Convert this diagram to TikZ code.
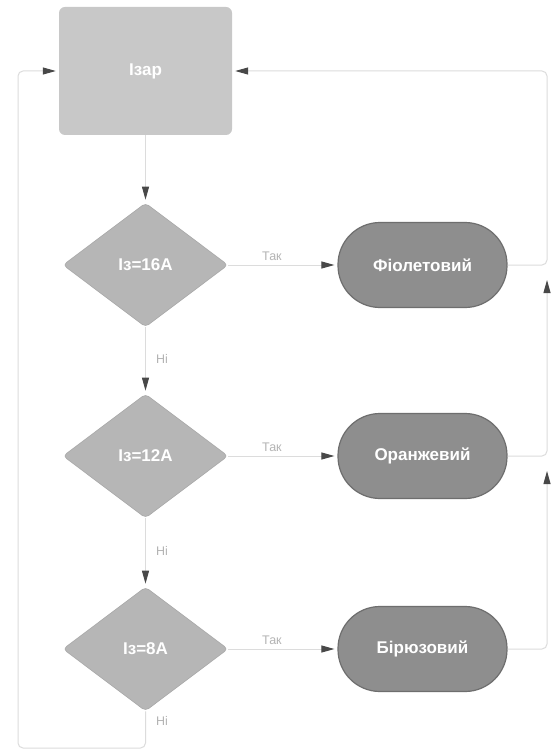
\documentclass[tikz,border=0pt]{standalone}
\usepackage{fontspec}
\setmainfont{Liberation Sans}
\usetikzlibrary{shapes.geometric,arrows.meta}

\definecolor{startfill}{HTML}{C8C8C8}
\definecolor{testfill}{HTML}{B6B6B6}
\definecolor{testline}{HTML}{A8A8A8}
\definecolor{colourfill}{HTML}{8E8E8E}
\definecolor{colourline}{HTML}{6E6E6E}
\definecolor{wire}{HTML}{DCDCDC}
\definecolor{tipgrey}{HTML}{484848}
\definecolor{labelgrey}{HTML}{B4B4B4}

\tikzset{
  startbox/.style={rectangle, rounded corners=6pt, fill=startfill,
    minimum width=173pt, minimum height=128pt, inner sep=0pt,
    text=white, font=\bfseries\fontsize{17}{20}\selectfont},
  testbox/.style={diamond, rounded corners=4pt, fill=testfill, draw=testline,
    line width=0.6pt, minimum width=165pt, minimum height=124pt, inner sep=0pt,
    text=white, font=\bfseries\fontsize{17}{20}\selectfont},
  colourbox/.style={rectangle, rounded corners=42pt, fill=colourfill,
    draw=colourline, line width=1.2pt, minimum width=169pt, minimum height=85pt,
    inner sep=0pt, text=white, font=\bfseries\fontsize{17}{20}\selectfont},
  wireline/.style={draw=wire, line width=1pt, rounded corners=5pt,
    -{Triangle[length=13pt, width=7pt, color=tipgrey]}, shorten >=3pt},
  branch/.style={text=labelgrey, font=\fontsize{12.5}{14}\selectfont, inner sep=2pt}
}

\begin{document}
\begin{tikzpicture}[x=1pt, y=-1pt]
  \useasboundingbox (0,0) rectangle (555,754);
  \fill[white] (0,0) rectangle (555,754);

  % start block and the three tests
  \node[startbox] (izar) at (145.5,71) {Ізар};
  \node[testbox] (t16) at (145.5,265) {Із=16А};
  \node[testbox] (t12) at (145.5,456) {Із=12А};
  \node[testbox] (t8)  at (145.5,649) {Із=8А};

  % colour outcomes
  \node[colourbox] (violet) at (422.5,265) {Фіолетовий};
  \node[colourbox] (orange) at (422.5,456) {Оранжевий};
  \node[colourbox] (turq)   at (422.5,649) {Бірюзовий};

  % helper points on the return lines
  \coordinate (rx) at (547,0);
  \coordinate (lx) at (18,0);
  \coordinate (bottom) at (0,748);
  \coordinate (up1) at (547,277);
  \coordinate (up2) at (547,468);

  % main chain
  \draw[wireline] (izar.south) -- (t16.north);
  \draw[wireline] (t16.south) -- node[branch, pos=0.48, right=8pt] {Ні} (t12.north);
  \draw[wireline] (t12.south) -- node[branch, pos=0.48, right=8pt] {Ні} (t8.north);

  % yes branches
  \draw[wireline] (t16.east) -- node[branch, pos=0.4, above=2pt] {Так} (violet.west);
  \draw[wireline] (t12.east) -- node[branch, pos=0.4, above=2pt] {Так} (orange.west);
  \draw[wireline] (t8.east)  -- node[branch, pos=0.4, above=2pt] {Так} (turq.west);

  % returns to the start block
  \draw[wireline] (violet.east) -- (rx |- violet.east) -- (rx |- izar.east) -- (izar.east);
  \draw[wireline] (orange.east) -| (up1);
  \draw[wireline] (turq.east) -| (up2);
  \draw[wireline] (t8.south) -- node[branch, pos=0.25, right=8pt] {Ні} (t8.south |- bottom)
    -- (lx |- bottom) -- (lx |- izar.west) -- (izar.west);
\end{tikzpicture}
\end{document}
